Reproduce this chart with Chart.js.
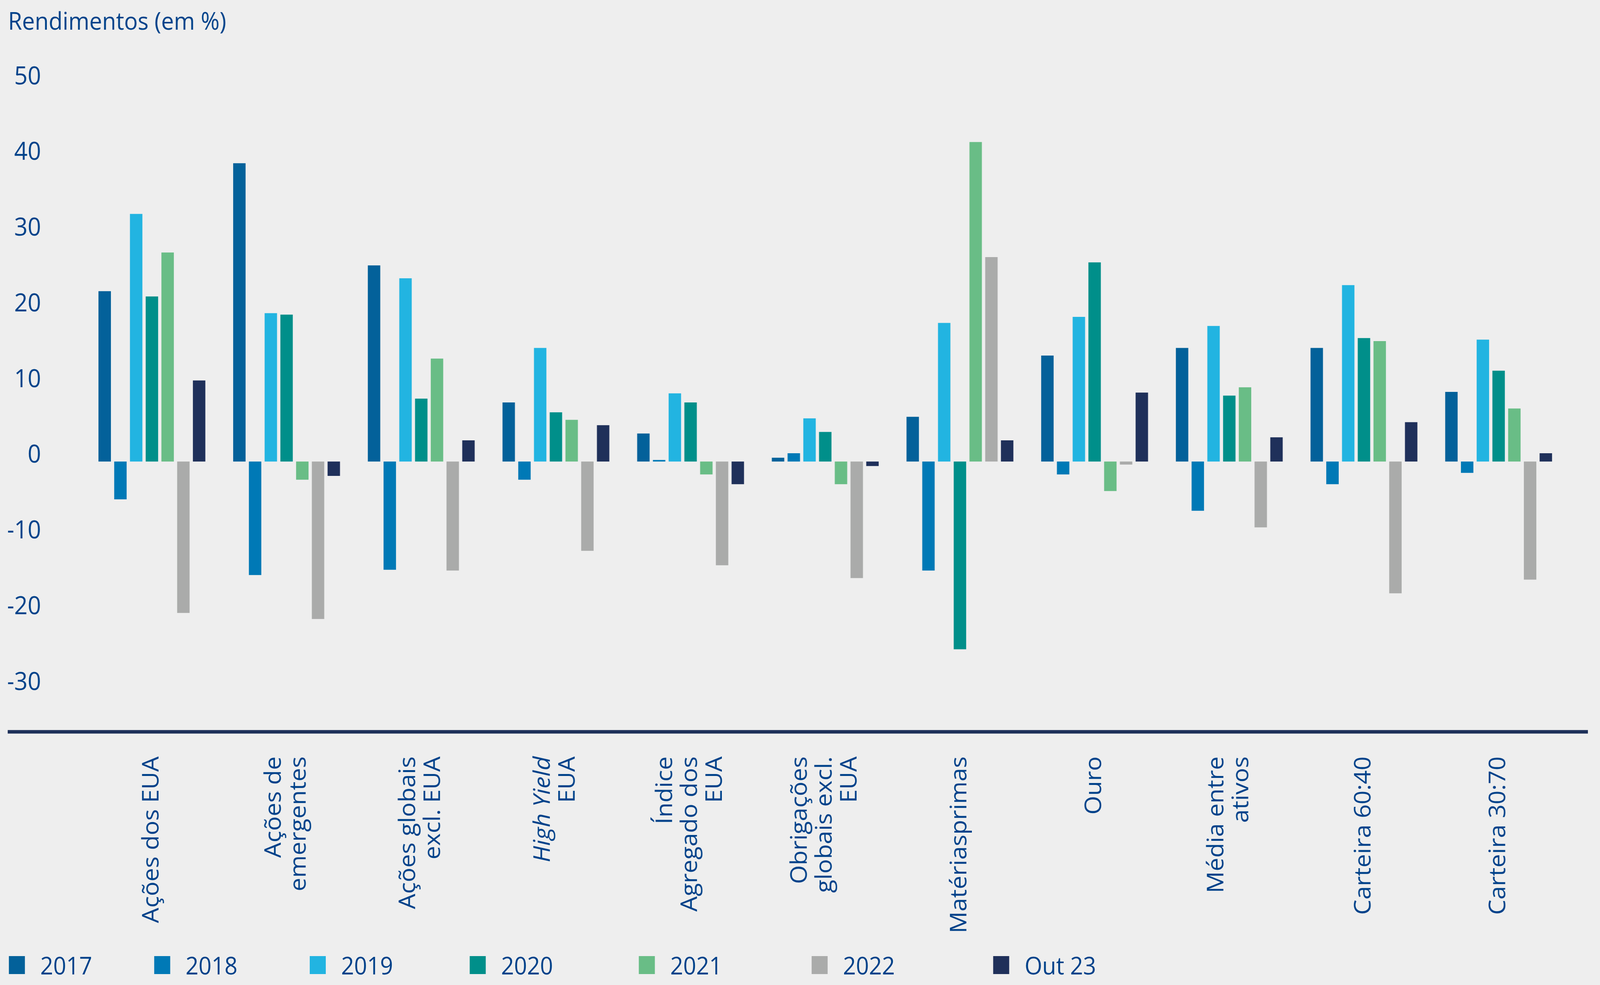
<!DOCTYPE html>
<html>
<head>
<meta charset="utf-8">
<script src="https://cdn.jsdelivr.net/npm/chart.js@4.4.0/dist/chart.umd.min.js"></script>
<style>
  html, body { margin: 0; padding: 0; background: #eeeeee; overflow: hidden; width: 100vw; height: 100vh; }
  #wrap { position: absolute; left: 0; top: 0; width: 4371px; height: 2521px; background: #eeeeee; transform-origin: 0 0; }
  #c { position: absolute; left: 0; top: 0; }
  .lg { position: absolute; top: 2438px; height: 64px; display: flex; align-items: center;
        font-family: 'Open Sans', sans-serif; font-size: 62px; color: #00428a; white-space: nowrap; }
  .lg .b { display: inline-block; width: 44px; height: 46px; margin-right: 42px; }
</style>
</head>
<body>
<div id="wrap">
  <canvas id="c" width="4371" height="2521"></canvas>
  <div id="legend"></div>
</div>
<script>
// ---------------- DATA ----------------
const categories = [
  ['Ações dos EUA'],
  ['Ações de', 'emergentes'],
  ['Ações globais', 'excl. EUA'],
  ['High Yield', 'EUA'],
  ['Índice', 'Agregado dos', 'EUA'],
  ['Obrigações', 'globais excl.', 'EUA'],
  ['Matériasprimas'],
  ['Ouro'],
  ['Média entre', 'ativos'],
  ['Carteira 60:40'],
  ['Carteira 30:70']
];
const italicLines = ['High Yield'];
const seriesNames = ['2017', '2018', '2019', '2020', '2021', '2022', 'Out 23'];

const v2017 = [22.5, 39.4, 25.9, 7.8, 3.7, 0.5, 5.9, 14.0, 15.0, 15.0, 9.2];
const v2018 = [-5.0, -15.0, -14.3, -2.4, 0.2, 1.1, -14.4, -1.7, -6.5, -3.0, -1.5];
const v2019 = [32.7, 19.6, 24.2, 15.0, 9.0, 5.7, 18.3, 19.1, 17.9, 23.3, 16.1];
const v2020 = [21.8, 19.4, 8.3, 6.5, 7.8, 3.9, -24.8, 26.3, 8.7, 16.3, 12.0];
const v2021 = [27.6, -2.4, 13.6, 5.5, -1.7, -3.0, 42.2, -3.9, 9.8, 15.9, 7.0];
const v2022 = [-20.0, -20.8, -14.4, -11.8, -13.7, -15.4, 27.0, -0.4, -8.7, -17.4, -15.6];
const vOut23 = [10.7, -1.9, 2.8, 4.8, -3.0, -0.6, 2.8, 9.1, 3.2, 5.2, 1.1];

const yTickValues = [-30, -20, -10, 0, 10, 20, 30, 40, 50];

// ---------------- STYLE ----------------
const seriesColors = ['#03619a', '#0079b6', '#22b4e1', '#008f8a', '#69bd86', '#aaabaa', '#1f305a'];
const textColor = '#00428a';
const axisColor = '#1e3059';
const fontFamily = "'Open Sans', sans-serif";
const legendLeft = [24, 421, 846, 1283, 1745, 2217, 2713];

// fit the 4371x2521 design into the actual viewport
(function fit() {
  const w = window.innerWidth || document.documentElement.clientWidth || 4371;
  const h = window.innerHeight || document.documentElement.clientHeight || 2521;
  document.getElementById('wrap').style.transform = 'scale(' + (w / 4371) + ',' + (h / 2521) + ')';
})();

const seriesValues = [v2017, v2018, v2019, v2020, v2021, v2022, vOut23];

const datasets = seriesNames.map((name, i) => ({
  label: name,
  data: seriesValues[i],
  backgroundColor: seriesColors[i],
  borderWidth: 0,
  barPercentage: 0.79,
  categoryPercentage: 0.818
}));

// custom x-axis line + centred multi-line rotated category labels
const xLabelPlugin = {
  id: 'xLabels',
  afterDraw(chart) {
    const ctx = chart.ctx;
    const xs = chart.scales.x;
    const area = chart.chartArea;
    ctx.save();
    ctx.strokeStyle = axisColor;
    ctx.lineWidth = 9;
    ctx.beginPath();
    ctx.moveTo(21, area.bottom);
    ctx.lineTo(chart.width - 33, area.bottom);
    ctx.stroke();

    const lh = 68;
    const yTop = area.bottom + 63;
    ctx.fillStyle = textColor;
    ctx.textAlign = 'right';
    ctx.textBaseline = 'middle';
    categories.forEach((lines, i) => {
      const px = xs.getPixelForTick(i);
      const n = lines.length;
      lines.forEach((line, j) => {
        const italic = italicLines.includes(line);
        ctx.font = (italic ? 'italic ' : '') + '62px ' + fontFamily;
        ctx.save();
        ctx.translate(px + (j - (n - 1) / 2) * lh, yTop);
        ctx.rotate(-Math.PI / 2);
        ctx.fillText(line, 0, 0);
        ctx.restore();
      });
    });
    ctx.restore();
  }
};

new Chart(document.getElementById('c'), {
  type: 'bar',
  data: { labels: categories.map(l => l.join(' ')), datasets },
  options: {
    responsive: false,
    animation: false,
    devicePixelRatio: 1,
    layout: { padding: { left: 22, right: 93, top: 0, bottom: 0 } },
    plugins: {
      legend: { display: false },
      tooltip: { enabled: false },
      title: {
        display: true,
        text: 'Rendimentos (em %)',
        align: 'start',
        color: textColor,
        font: { family: fontFamily, size: 62, weight: 'normal', lineHeight: 1.2 },
        padding: { top: 21, bottom: 20 }
      }
    },
    scales: {
      x: {
        grid: { display: false, drawTicks: false },
        border: { display: false },
        ticks: { display: false },
        afterFit(s) { s.height = 648; s.paddingLeft = 0; s.paddingRight = 0; }
      },
      y: {
        min: -35.7,
        max: 55,
        grid: { display: false, drawTicks: false },
        border: { display: false },
        afterBuildTicks(s) { s.ticks = yTickValues.map(v => ({ value: v })); },
        ticks: {
          color: textColor,
          font: { family: fontFamily, size: 64 },
          padding: 119,
          labelOffset: -15
        },
        afterFit(s) { s.width = 209; s.paddingTop = 0; s.paddingBottom = 0; }
      }
    }
  },
  plugins: [xLabelPlugin]
});

// legend (HTML, real text)
const lg = document.getElementById('legend');
seriesNames.forEach((name, i) => {
  const d = document.createElement('div');
  d.className = 'lg';
  d.style.left = legendLeft[i] + 'px';
  const b = document.createElement('span');
  b.className = 'b';
  b.style.background = seriesColors[i];
  const t = document.createElement('span');
  t.textContent = name;
  d.appendChild(b);
  d.appendChild(t);
  lg.appendChild(d);
});
</script>
</body>
</html>
